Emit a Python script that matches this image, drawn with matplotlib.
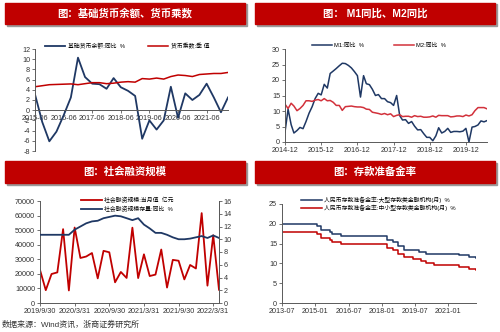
import matplotlib
matplotlib.use('Agg')
import matplotlib.pyplot as plt
import pandas as pd
from matplotlib.patches import Rectangle

plt.rcParams['font.family'] = ['Liberation Sans', 'Noto Sans CJK SC', 'DejaVu Sans']
plt.rcParams['axes.unicode_minus'] = False

# ---------------- data ----------------
# Panel 1: base money yoy (%) and money multiplier, quarterly 2015-06 .. 2022-03
p1_dates = pd.date_range('2015-06-01', '2022-03-01', freq='3MS')
base_money_yoy = [3.1, -2.3, -6.1, -4.2, -1.0, 2.5, 10.3, 6.5, 5.2, 5.1, 4.2, 6.3, 4.5, 3.8,
                  2.8, -5.6, -2.0, -3.8, -2.0, 4.6, -1.5, 3.3, 2.0, 3.0, 5.2, 2.5, -0.4, 2.5]
money_multiplier = [4.6, 4.8, 5.0, 5.05, 5.1, 5.15, 5.0, 5.2, 5.4, 5.4, 5.2, 5.3, 5.5, 5.6,
                    5.5, 6.2, 6.1, 6.3, 6.1, 6.6, 6.9, 6.8, 6.6, 7.0, 7.1, 7.2, 7.2, 7.4]
p1_ticks = ['2015-06', '2016-06', '2017-06', '2018-06', '2019-06', '2020-06', '2021-06']

# Panel 2: M1 / M2 yoy (%), monthly 2014-12 .. 2020-07
p2_dates = pd.date_range('2014-12-01', '2020-07-01', freq='MS')
m1_yoy = [3.2,
          10.6, 5.6, 2.9, 3.7, 4.7, 4.3, 6.6, 9.3, 11.4, 14.0, 15.7, 15.2,
          18.6, 17.4, 22.1, 22.9, 23.7, 24.6, 25.4, 25.3, 24.7, 23.9, 22.7, 21.4,
          14.5, 21.4, 18.8, 18.5, 17.0, 15.0, 15.3, 14.0, 14.0, 13.0, 12.7, 11.8,
          15.0, 8.5, 7.1, 7.2, 6.0, 6.6, 5.1, 3.9, 4.0, 2.7, 1.5, 1.5,
          0.4, 2.0, 4.6, 2.9, 3.4, 4.4, 3.1, 3.4, 3.4, 3.3, 3.5, 4.4,
          0.0, 4.8, 5.0, 5.5, 6.8, 6.5, 6.9]
m2_yoy = [12.2,
          10.8, 12.5, 11.6, 10.1, 10.8, 11.8, 13.3, 13.3, 13.1, 13.5, 13.7, 13.3,
          14.0, 13.3, 13.4, 12.8, 11.8, 11.8, 10.2, 11.4, 11.5, 11.6, 11.4, 11.3,
          11.3, 11.1, 10.6, 10.5, 9.6, 9.4, 9.2, 8.9, 9.2, 8.8, 9.1, 8.2,
          8.6, 8.8, 8.2, 8.3, 8.3, 8.0, 8.5, 8.2, 8.3, 8.0, 8.0, 8.1,
          8.4, 8.0, 8.6, 8.5, 8.5, 8.5, 8.1, 8.2, 8.4, 8.4, 8.2, 8.7,
          8.4, 8.8, 10.1, 11.1, 11.1, 11.1, 10.7]
p2_ticks = ['2014-12', '2015-12', '2016-12', '2017-12', '2018-12', '2019-12']

# Panel 3: social financing, monthly 2019-09 .. 2022-04
tsf_flow = [22700, 8800, 19900, 21000, 50700, 8600, 51800, 30900, 31900, 34300, 16900,
            35800, 34800, 14200, 21300, 17200, 51700, 17100, 33400, 18500, 19500, 36700,
            10600, 29600, 29000, 16200, 26100, 23700, 61700, 11900, 46500, 9100]
tsf_stock_yoy = [10.7, 10.7, 10.7, 10.7, 10.7, 10.7, 11.5, 12.0, 12.5, 12.8, 12.9, 13.3,
                 13.5, 13.7, 13.6, 13.3, 13.0, 13.3, 12.3, 11.7, 11.0, 11.0, 10.7, 10.3,
                 10.0, 10.0, 10.1, 10.3, 10.5, 10.2, 10.6, 10.2]
p3_ticks = ['2019/9/30', '2020/3/31', '2020/9/30', '2021/3/31', '2021/9/30', '2022/3/31']

# Panel 4: required reserve ratio (%), change points
rrr_large_dates = ['2013-07', '2015-02', '2015-04', '2015-09', '2015-10', '2016-03', '2018-04',
                   '2018-07', '2018-10', '2019-01', '2019-09', '2020-01', '2021-07', '2021-12',
                   '2022-04']
rrr_large = [20.0, 19.5, 18.5, 18.0, 17.5, 17.0, 16.0, 15.5, 14.5, 13.5, 13.0, 12.5, 12.0,
             11.5, 11.25]
rrr_small_dates = ['2013-07', '2015-02', '2015-04', '2015-09', '2015-10', '2016-03', '2018-04',
                   '2018-07', '2018-10', '2019-01', '2019-06', '2019-10', '2020-01', '2020-05',
                   '2021-07', '2021-12', '2022-04']
rrr_small = [18.0, 17.5, 16.5, 16.0, 15.5, 15.0, 14.0, 13.5, 12.5, 11.5, 11.0, 10.5, 10.0, 9.5,
             9.0, 8.5, 8.25]
p4_ticks = ['2013-07', '2015-01', '2016-07', '2018-01', '2019-07', '2021-01']

# ---------------- style ----------------
W, H = 500, 332
RED = '#C00000'
BLUE = '#1F3864'
AX = '#595959'
TXT = '#333333'
TFS = 5.2
LFS = 4.2

fig = plt.figure(figsize=(W / 100, H / 100), dpi=100)


def box(l, t, r, b):
    return [l / W, 1 - b / H, (r - l) / W, (b - t) / H]


def banner(l, t, r, b, text):
    fig.patches.append(Rectangle(((l + 1.5) / W, 1 - (b + 1.5) / H), (r - l) / W, (b - t) / H,
                                 transform=fig.transFigure, color='#9a9a9a', zorder=0))
    fig.patches.append(Rectangle((l / W, 1 - b / H), (r - l) / W, (b - t) / H,
                                 transform=fig.transFigure, color=RED, zorder=1))
    fig.text((l + r) / 2 / W, 1 - (t + b) / 2 / H, text, color='white', fontsize=7.5,
             fontweight='bold', ha='center', va='center', zorder=2)


def style(ax, right=False):
    for s in ['top', 'right']:
        ax.spines[s].set_visible(False)
    for s in ['left', 'bottom', 'right']:
        ax.spines[s].set_color(AX)
        ax.spines[s].set_linewidth(0.7)
    ax.tick_params(labelsize=TFS, colors=TXT, length=2, width=0.6, pad=1.5)
    ax.tick_params(axis='both', color=AX)
    ax.set_facecolor('none')


# ---------- Panel 1 ----------
banner(5, 3, 245, 24, '图：基础货币余额、货币乘数')
ax1 = fig.add_axes(box(35, 49, 228, 151))
style(ax1)
l1, = ax1.plot(p1_dates, base_money_yoy, color=BLUE, lw=1.3, label='基础货币余额:同比  %')
l2, = ax1.plot(p1_dates, money_multiplier, color=RED, lw=1.1, label='货币乘数:季 值')
ax1.set_ylim(-8, 12)
ax1.set_yticks(range(-8, 13, 2))
ax1.set_xlim(p1_dates[0], p1_dates[-1])
ax1.spines['bottom'].set_position(('data', 0))
ax1.set_xticks(pd.to_datetime(p1_ticks))
ax1.set_xticklabels(p1_ticks)
fig.legend(handles=[l1, l2], ncol=2, frameon=False, fontsize=LFS, loc='center',
           bbox_to_anchor=(127 / W, 1 - 46 / H), handlelength=3.5, columnspacing=4,
           handletextpad=0.4)

# ---------- Panel 2 ----------
banner(255, 3, 495, 24, '图： M1同比、M2同比')
ax2 = fig.add_axes(box(285, 49, 487, 142))
style(ax2)
a, = ax2.plot(p2_dates, m1_yoy, color=BLUE, lw=1.1, label='M1:同比  %')
b, = ax2.plot(p2_dates, m2_yoy, color='#D2313B', lw=1.1, label='M2:同比  %')
ax2.set_ylim(0, 30)
ax2.set_yticks(range(0, 31, 5))
ax2.set_xlim(p2_dates[0], p2_dates[-1])
ax2.set_xticks(pd.to_datetime(p2_ticks))
ax2.set_xticklabels(p2_ticks)
fig.legend(handles=[a, b], ncol=2, frameon=False, fontsize=LFS, loc='center',
           bbox_to_anchor=(379 / W, 1 - 45 / H), handlelength=3.5, columnspacing=5,
           handletextpad=0.4)

# ---------- Panel 3 ----------
banner(5, 161, 245, 183, '图：社会融资规模')
ax3 = fig.add_axes(box(40, 201, 219, 303))
style(ax3)
ax3.spines['right'].set_visible(True)
idx = list(range(len(tsf_flow)))
r3, = ax3.plot(idx, tsf_flow, color=RED, lw=1.3, label='社会融资规模:当月值  亿元')
ax3.set_ylim(0, 70000)
ax3.set_yticks(range(0, 70001, 10000))
ax3.set_xlim(0, len(tsf_flow) - 1)
ax3.set_xticks(range(0, len(tsf_flow), 6))
ax3.set_xticklabels(p3_ticks)
ax3b = ax3.twinx()
ax3b.set_position(box(40, 201, 219, 303))
for s in ['top', 'left']:
    ax3b.spines[s].set_visible(False)
ax3b.spines['right'].set_color(AX)
ax3b.spines['right'].set_linewidth(0.7)
ax3b.spines['bottom'].set_visible(False)
ax3b.tick_params(labelsize=TFS, colors=TXT, length=2, width=0.6, pad=1.5)
ax3b.tick_params(axis='y', color=AX)
b3, = ax3b.plot(idx, tsf_stock_yoy, color=BLUE, lw=1.3, label='社会融资规模存量:同比  %')
ax3b.set_ylim(0, 16)
ax3b.set_yticks(range(0, 17, 2))
fig.legend(handles=[r3, b3], ncol=1, frameon=False, fontsize=LFS, loc='upper left',
           bbox_to_anchor=(76 / W, 1 - 191 / H), handlelength=3.5, handletextpad=0.4,
           labelspacing=0.6)

# ---------- Panel 4 ----------
banner(255, 161, 495, 183, '图：存款准备金率')
ax4 = fig.add_axes(box(282, 204, 476, 303))
style(ax4)
c1, = ax4.plot(pd.to_datetime(rrr_large_dates), rrr_large, color=BLUE, lw=1.1,
               drawstyle='steps-post', label='人民币存款准备金率:大型存款类金融机构(月)  %')
c2, = ax4.plot(pd.to_datetime(rrr_small_dates), rrr_small, color=RED, lw=1.1,
               drawstyle='steps-post', label='人民币存款准备金率:中小型存款类金融机构(月)  %')
ax4.set_ylim(0, 25)
ax4.set_yticks(range(0, 26, 5))
ax4.set_xlim(pd.to_datetime(rrr_large_dates[0]), pd.to_datetime(rrr_large_dates[-1]))
ax4.set_xticks(pd.to_datetime(p4_ticks))
ax4.set_xticklabels(p4_ticks)
fig.legend(handles=[c1, c2], ncol=1, frameon=False, fontsize=LFS, loc='upper left',
           bbox_to_anchor=(296 / W, 1 - 191 / H), handlelength=3.5, handletextpad=0.4,
           labelspacing=0.3)

fig.text(2 / W, 1 - 325 / H, '数据来源：Wind资讯，浙商证券研究所', fontsize=5.8, color=TXT,
         ha='left', va='center')

fig.savefig('out.png', dpi=100)
